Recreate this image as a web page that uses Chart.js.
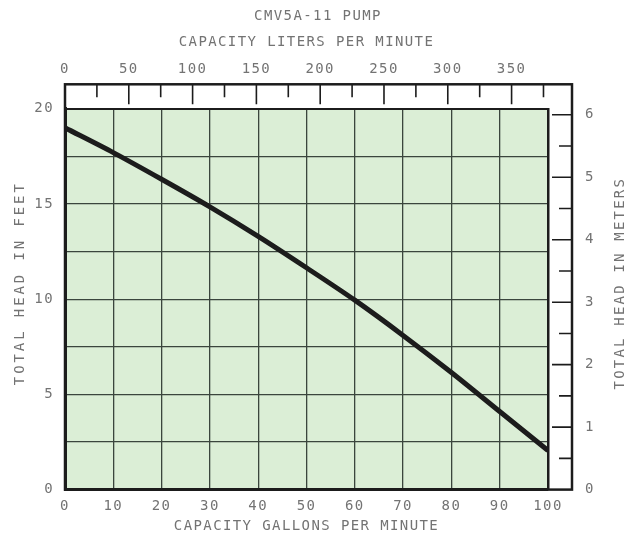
<!DOCTYPE html>
<html lang="en">
<head>
    <meta charset="UTF-8">
    <title>CMV5A-11 Pump</title>
    <script src="https://cdn.jsdelivr.net/npm/chart.js"></script>
    <style>
        html, body { margin: 0; padding: 0; background: #fff; }
        #wrap { width: 636px; height: 535px; }
    </style>
</head>
<body>
    <div id="wrap"><canvas id="pumpChart"></canvas></div>

    <script>
        // pump curve
        const gpm = [0, 10, 20, 30, 40, 50, 60, 70, 80, 90, 100];
        const headFeet = [19.0, 17.7, 16.3, 14.85, 13.3, 11.65, 9.95, 8.1, 6.15, 4.1, 2.05];

        // axis ranges
        const gpmMax = 100;
        const feetMax = 20;
        const litersPerGallon = 3.78541;
        const metersPerFoot = 0.3048;
        const litersMax = gpmMax * litersPerGallon;
        const metersMax = feetMax * metersPerFoot;

        const titleText = 'CMV5A-11 PUMP';
        const topTitle = 'CAPACITY LITERS PER MINUTE';
        const bottomTitle = 'CAPACITY GALLONS PER MINUTE';
        const leftTitle = 'TOTAL HEAD IN FEET';
        const rightTitle = 'TOTAL HEAD IN METERS';

        const GREEN = '#dbeed6';
        const INK = '#1c1c1c';
        const GRID = '#3a453d';
        const TEXT = '#737373';
        const FONT = 'DejaVu Sans Mono';

        const framePlugin = {
            id: 'frame',
            beforeUpdate(chart) {
                chart.ctx.letterSpacing = '1.4px';
            },
            beforeDraw(chart) {
                const { ctx, chartArea: a } = chart;
                ctx.letterSpacing = '1.4px';
                ctx.save();
                ctx.fillStyle = '#fff';
                ctx.fillRect(0, 0, chart.width, chart.height);
                ctx.fillStyle = GREEN;
                ctx.fillRect(a.left, a.top, a.right - a.left, a.bottom - a.top);
                ctx.restore();
            },
            afterDraw(chart) {
                const { ctx, chartArea: a } = chart;
                const x2 = chart.scales.x2;
                const y2 = chart.scales.y2;
                const top = a.top - 24.5;
                const right = a.right + 24;

                ctx.save();
                ctx.strokeStyle = INK;
                ctx.lineWidth = 2.5;
                ctx.strokeRect(a.left, top, right - a.left, a.bottom - top);

                // liter ticks hanging from the outer frame
                ctx.lineWidth = 1.6;
                ctx.beginPath();
                for (let v = 25; v < litersMax; v += 25) {
                    const px = x2.getPixelForValue(v);
                    ctx.moveTo(px, top);
                    ctx.lineTo(px, top + (v % 50 === 0 ? 20 : 13));
                }
                // meter ticks on the right
                for (let v = 0.5; v < metersMax; v += 0.5) {
                    const py = y2.getPixelForValue(v);
                    ctx.moveTo(right, py);
                    ctx.lineTo(right - (Number.isInteger(v) ? 20 : 13), py);
                }
                ctx.stroke();

                // vertical axis titles, both read bottom to top
                ctx.fillStyle = TEXT;
                ctx.font = '14px "' + FONT + '"';
                ctx.textAlign = 'center';
                ctx.textBaseline = 'middle';
                const midY = (a.top + a.bottom) / 2 - 16;
                ctx.letterSpacing = '2.9px';
                ctx.save();
                ctx.translate(20, midY);
                ctx.rotate(-Math.PI / 2);
                ctx.fillText(leftTitle, 0, 0);
                ctx.restore();
                ctx.letterSpacing = '2.2px';
                ctx.save();
                ctx.translate(620, midY);
                ctx.rotate(-Math.PI / 2);
                ctx.fillText(rightTitle, 0, 0);
                ctx.restore();
                ctx.restore();
                ctx.letterSpacing = '1.4px';
            }
        };

        Chart.defaults.font.family = FONT;
        Chart.defaults.font.size = 14;
        Chart.defaults.color = TEXT;

        new Chart(document.getElementById('pumpChart'), {
            type: 'line',
            data: {
                datasets: [{
                    label: 'Total head',
                    data: gpm.map((g, i) => ({ x: g, y: headFeet[i] })),
                    borderColor: INK,
                    borderWidth: 5,
                    pointRadius: 0,
                    tension: 0.3,
                    xAxisID: 'x',
                    yAxisID: 'y'
                }]
            },
            options: {
                responsive: true,
                maintainAspectRatio: false,
                animation: false,
                layout: { padding: 0 },
                plugins: {
                    legend: { display: false },
                    tooltip: { enabled: false },
                    title: {
                        display: true,
                        text: titleText,
                        color: TEXT,
                        font: { size: 14, weight: 'normal' },
                        padding: { top: 8, bottom: 5 }
                    }
                },
                scales: {
                    x: {
                        type: 'linear',
                        position: 'bottom',
                        min: 0,
                        max: gpmMax,
                        ticks: { stepSize: 10, padding: 8, maxRotation: 0, autoSkip: false },
                        grid: { color: GRID, lineWidth: 1.3, drawTicks: false },
                        border: { color: INK, width: 3 },
                        title: { display: true, text: bottomTitle, padding: { top: 0, bottom: 0 } },
                        afterFit(s) { s.height = 45; }
                    },
                    x2: {
                        type: 'linear',
                        position: 'top',
                        min: 0,
                        max: litersMax,
                        ticks: {
                            stepSize: 25,
                            includeBounds: false,
                            padding: 31,
                            maxRotation: 0,
                            autoSkip: false,
                            callback: v => (v % 50 === 0 ? v : '')
                        },
                        grid: { display: false, drawTicks: false },
                        border: { color: INK, width: 2 },
                        title: { display: true, text: topTitle, padding: { top: 4, bottom: 0 } },
                        afterFit(s) { s.height = 79; }
                    },
                    y: {
                        type: 'linear',
                        position: 'left',
                        min: 0,
                        max: feetMax,
                        ticks: {
                            stepSize: 2.5,
                            padding: 11,
                            autoSkip: false,
                            callback: v => (v % 5 === 0 ? v : '')
                        },
                        grid: { color: GRID, lineWidth: 1.3, drawTicks: false },
                        border: { color: INK, width: 3 },
                        afterFit(s) { s.width = 65; }
                    },
                    y2: {
                        type: 'linear',
                        position: 'right',
                        min: 0,
                        max: metersMax,
                        ticks: {
                            stepSize: 0.5,
                            includeBounds: false,
                            padding: 37,
                            autoSkip: false,
                            callback: v => (Number.isInteger(v) ? v : '')
                        },
                        grid: { display: false, drawTicks: false },
                        border: { color: INK, width: 2.5 },
                        afterFit(s) { s.width = 88; }
                    }
                }
            },
            plugins: [framePlugin]
        });
    </script>
</body>
</html>
